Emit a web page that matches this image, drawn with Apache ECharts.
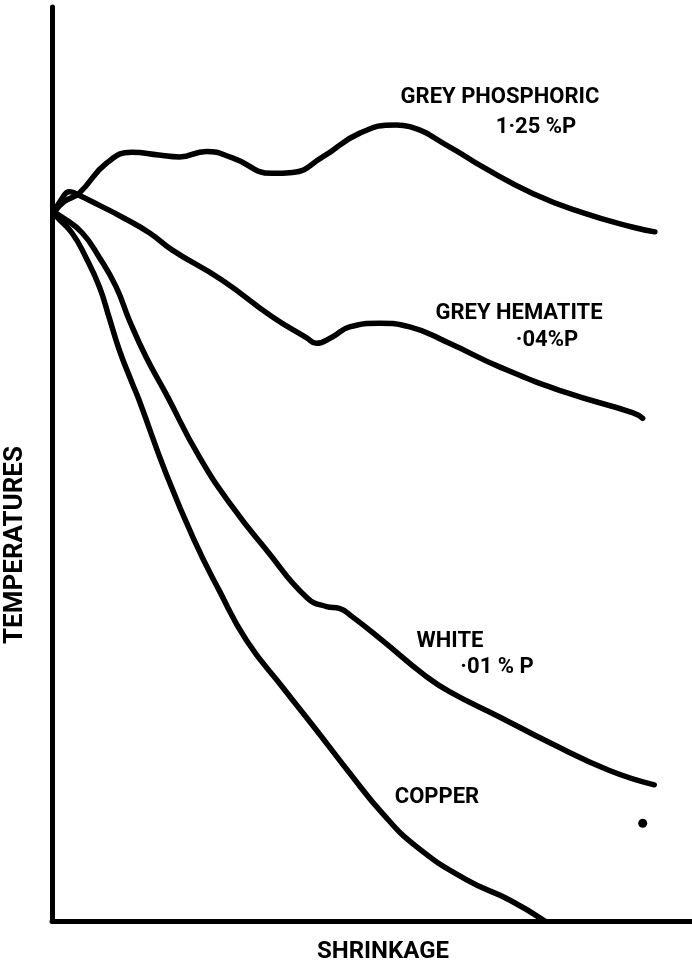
<!DOCTYPE html>
<html>
<head>
<meta charset="utf-8">
<title>Shrinkage curves</title>
<script src="https://cdn.jsdelivr.net/npm/echarts/dist/echarts.min.js"></script>
<style>
  html, body { margin: 0; padding: 0; background: #fff; }
  #myChart { width: 692px; height: 964px; }
</style>
</head>
<body>
<div id="myChart"></div>
<script>
// values: [shrinkage, temperature] on 0-100 scales
const greyPhosphoric = [
  [0.3, 77.5], [1.9, 78.7], [4.2, 79.6], [8.5, 82.9], [12.5, 84.1], [16.7, 83.8],
  [19.9, 83.6], [24.1, 84.2], [28.2, 83.5], [34.4, 81.8], [37.6, 81.9], [42.3, 83.6],
  [48.1, 86.2], [53.8, 87.1], [55.9, 86.9], [62.1, 84.7], [67.3, 82.5], [75.1, 79.6],
  [82.9, 77.5], [90.8, 75.9], [94.2, 75.4]
];
const greyHematite = [
  [0.3, 77.5], [1.6, 79.1], [2.7, 79.8], [4.2, 79.4], [7.4, 78.3], [11.0, 77.0],
  [15.2, 75.3], [18.8, 73.4], [26.6, 70.1], [34.4, 66.1], [39.8, 63.8], [41.3, 63.2],
  [43.8, 63.9], [46.5, 65.0], [51.2, 65.4], [55.9, 65.0], [62.1, 63.2], [70.0, 60.6],
  [80.4, 57.8], [90.8, 55.6], [92.3, 55.0]
];
const white = [
  [0.3, 77.5], [1.6, 77.0], [4.7, 75.3], [7.4, 72.6], [10.0, 69.4], [12.1, 65.7],
  [14.7, 61.7], [17.8, 57.7], [23.0, 50.8], [28.2, 45.3], [33.5, 40.6], [39.8, 35.4],
  [42.9, 34.4], [44.9, 34.2], [46.9, 33.3], [51.6, 30.7], [58.2, 26.9], [62.1, 25.1],
  [70.0, 22.3], [77.8, 19.5], [87.0, 16.5], [94.1, 14.9]
];
const copper = [
  [0.3, 77.5], [0.8, 77.0], [3.1, 75.3], [5.3, 72.6], [7.4, 69.4], [8.9, 66.1],
  [10.5, 62.5], [12.5, 58.9], [13.6, 57.0], [17.8, 49.0], [22.2, 41.7], [26.1, 36.2],
  [30.4, 30.7], [36.0, 25.6], [41.3, 20.9], [46.5, 16.2], [51.6, 11.8], [57.0, 8.1],
  [64.8, 4.5], [71.5, 2.3], [77.0, 0]
];
const strayDot = [[92.3, 10.7]];

const labels = [
  { text: "GREY PHOSPHORIC", x: 500, y: 97 },
  { text: "1·25 %P", x: 536, y: 127 },
  { text: "GREY HEMATITE", x: 519, y: 313 },
  { text: "·04%P", x: 547, y: 340 },
  { text: "WHITE", x: 450, y: 641 },
  { text: "·01 % P", x: 497, y: 667 },
  { text: "COPPER", x: 437, y: 797 }
];

const font = "Roboto, 'DejaVu Sans', sans-serif";

function curve(name, data) {
  return {
    name: name,
    type: "line",
    data: data,
    smooth: 0.5,
    symbol: "none",
    lineStyle: { color: "#000", width: 5.5, cap: "round", join: "round" },
    z: 3
  };
}

let myChart = echarts.init(document.getElementById("myChart"));

var option = {
  backgroundColor: "#fff",
  animation: false,
  grid: { left: 52, right: 0, top: 7, bottom: 43 },
  xAxis: {
    type: "value",
    min: 0,
    max: 100,
    axisLine: { show: true, onZero: false, lineStyle: { color: "#000", width: 5 } },
    axisTick: { show: false },
    axisLabel: { show: false },
    splitLine: { show: false }
  },
  yAxis: {
    type: "value",
    min: 0,
    max: 100,
    axisLine: { show: true, onZero: false, lineStyle: { color: "#000", width: 5 } },
    axisTick: { show: false },
    axisLabel: { show: false },
    splitLine: { show: false }
  },
  series: [
    curve("Grey phosphoric", greyPhosphoric),
    curve("Grey hematite", greyHematite),
    curve("White", white),
    curve("Copper", copper),
    {
      name: "dot",
      type: "scatter",
      data: strayDot,
      symbolSize: 9,
      itemStyle: { color: "#000", opacity: 1 }
    }
  ],
  graphic: labels.map(l => ({
    type: "text",
    x: l.x,
    y: l.y,
    style: {
      text: l.text,
      fill: "#000",
      font: "bold 22px " + font,
      textAlign: "center",
      textVerticalAlign: "middle"
    }
  })).concat([
    {
      type: "text",
      x: 383,
      y: 952,
      style: {
        text: "SHRINKAGE",
        fill: "#000",
        font: "bold 24px " + font,
        textAlign: "center",
        textVerticalAlign: "middle"
      }
    },
    {
      type: "text",
      x: 15,
      y: 545,
      rotation: Math.PI / 2,
      style: {
        text: "TEMPERATURES",
        fill: "#000",
        font: "bold 26px " + font,
        textAlign: "center",
        textVerticalAlign: "middle"
      }
    }
  ])
};

myChart.setOption(option);
</script>
</body>
</html>
